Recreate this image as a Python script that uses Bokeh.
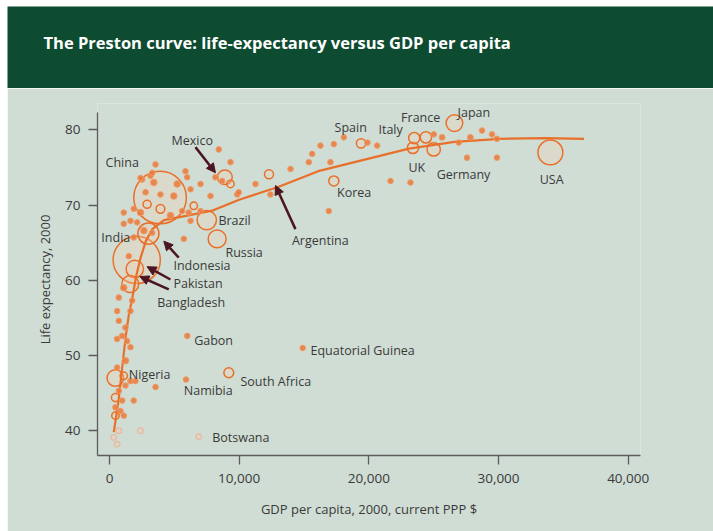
import numpy as np
from bokeh.plotting import figure
from bokeh.models import (Range1d, FixedTicker, NumeralTickFormatter, Label, Arrow,
                          NormalHead, ColumnDataSource, Spacer)
from bokeh.layouts import column, row
from bokeh.core.properties import value
from bokeh.embed import file_html
from bokeh.resources import INLINE

TITLE = "The Preston curve: life-expectancy versus GDP per capita"
X_LABEL = "GDP per capita, 2000, current PPP $"
Y_LABEL = "Life expectancy, 2000"
x_ticks = [0, 10000, 20000, 30000, 40000]
y_ticks = [40, 50, 60, 70, 80]

# named countries: GDP per head (PPP $), life expectancy (years), population (m)
country = ["China", "India", "USA", "Indonesia", "Brazil", "Russia", "Pakistan",
           "Bangladesh", "Japan", "Nigeria", "Mexico", "Germany", "UK", "France",
           "Italy", "Korea", "South Africa", "Spain", "Argentina", "Namibia",
           "Gabon", "Equatorial Guinea"]
country_gdp = [3900, 2100, 34000, 3000, 7500, 8300, 1950, 1600, 26600, 450, 8900,
               25000, 23400, 24400, 23500, 17300, 9200, 19400, 12300, 5900, 6000, 14900]
country_life = [71.0, 62.7, 77.0, 66.2, 68.0, 65.5, 61.5, 59.5, 80.9, 47.0, 73.7,
                77.4, 77.6, 79.0, 78.9, 73.2, 47.7, 78.2, 74.1, 46.8, 52.6, 51.0]
country_pop = [1262, 1016, 282, 206, 172, 146, 138, 131, 127, 126, 98, 82, 59, 59,
               57, 47, 44, 40, 37, 1.9, 1.2, 0.5]

# other countries
other_gdp = [1100, 720, 1750, 590, 1620, 720, 1230, 980, 590, 1360, 1620, 1230, 590,
             1100, 1620, 1230, 2000, 720, 3550, 460, 980, 1870, 460, 850, 460, 1100,
             3550, 2520, 3160, 3420, 5860, 5990, 5220, 7020, 6250, 2780, 3930, 4960,
             7790, 9850, 1100, 1870, 2390, 2900, 3930, 4700, 5600, 6110, 6500, 7020,
             6250, 1620, 2130, 1100, 2650, 3290, 5730, 1870, 1490, 8690, 9330, 8170,
             8430, 9330, 9970, 2390, 3300,
             11260, 12410, 13960, 15370, 15630, 16270, 17040, 17300, 18070, 19900,
             20640, 16910, 21670, 23210, 25010, 25650, 27830, 26930, 28730, 29500,
             29880, 27570, 29880]
other_life = [59.0, 57.7, 57.3, 55.9, 55.9, 54.6, 53.7, 52.6, 52.2, 51.9, 51.1, 49.3,
              48.4, 47.3, 46.6, 46.0, 46.6, 45.3, 45.8, 44.4, 44.0, 44.0, 43.1, 42.6,
              42.0, 42.0,
              75.4, 73.4, 73.9, 73.0, 74.5, 73.7, 72.8, 72.8, 72.1, 71.7, 71.4, 71.2,
              71.2, 71.4, 69.0, 69.5, 69.0, 70.1, 69.5, 68.6, 69.2, 69.0, 69.9, 69.2,
              67.9, 67.9, 67.7, 67.5, 66.6, 66.3, 65.5, 65.7, 63.2, 73.2, 72.8, 73.7,
              77.4, 75.7, 71.7, 73.6, 74.3,
              72.8, 71.4, 74.8, 75.7, 76.8, 77.9, 75.7, 78.1, 79.0, 78.3, 77.9, 69.2,
              73.2, 73.0, 79.4, 79.0, 79.0, 78.3, 79.9, 79.4, 78.8, 76.3, 76.3]
other_pop = [20, 15, 12, 12, 10, 12, 8, 15, 10, 12, 8, 20, 10, 25, 15, 10, 12, 10, 3,
             30, 10, 3, 15, 10, 25, 10,
             3, 8, 15, 20, 3, 5, 20, 5, 5, 15, 5, 20, 4, 5, 8, 8, 20, 30, 35, 20, 10,
             10, 25, 8, 8, 10, 10, 8, 20, 10, 8, 8, 10, 10, 25, 8, 3, 3, 3, 5, 10,
             10, 5, 4, 4, 2, 4, 5, 3, 3, 10, 5, 2, 3, 3, 10, 16, 16, 8, 4, 3, 3, 4, 4]

# countries hit hardest by AIDS, shown paler
pale_country = ["Botswana", "", "", "", ""]
pale_gdp = [6900, 2390, 720, 330, 590]
pale_life = [39.2, 40.0, 40.0, 39.1, 38.2]
pale_pop = [1.7, 15, 5, 5, 5]

# fitted Preston curve
curve_gdp = [330, 700, 980, 1250, 1500, 1750, 2050, 2400, 2800, 3300, 4200, 6000, 8000,
             10000, 13000, 16100, 19600, 23100, 26600, 30100, 33600, 36600]
curve_life = [39.8, 44.0, 48.4, 52.5, 55.5, 57.5, 60.5, 63.0, 65.2, 66.8, 68.0, 68.6,
              69.3, 70.7, 72.4, 74.5, 76.0, 77.5, 78.4, 78.8, 78.9, 78.8]

# callout labels
label_text = ["Mexico", "China", "Spain", "Italy", "France", "Japan", "UK", "Germany", "USA",
              "India",
              "Brazil", "Russia", "Indonesia", "Pakistan", "Bangladesh", "Argentina", "Korea",
              "Gabon", "Equatorial Guinea", "South Africa", "Namibia", "Nigeria", "Botswana"]
label_x = [6380, 980, 18600, 21680, 24000, 28100, 23700, 27300, 34100,
           1600,
           8400, 8940, 4930, 4930, 3680, 14070, 17550,
           6530, 15500, 10100, 5730, 1490, 7920]
label_y = [78.6, 75.7, 80.35, 80.1, 81.6, 82.35, 75.0, 74.1, 73.45,
           65.7,
           68.0, 63.7, 62.0, 59.6, 57.1, 65.3, 71.65,
           51.95, 50.7, 46.6, 45.3, 47.5, 39.1]
label_align = ["center"] * 9 + ["right"] + ["left"] * 13

arrow_x0 = [6630, 14340, 5340, 4700, 4570]
arrow_y0 = [77.7, 66.8, 63.0, 60.1, 58.8]
arrow_x1 = [8170, 12800, 4190, 2900, 2340]
arrow_y1 = [74.3, 72.6, 65.2, 61.8, 60.5]

GREEN = "#0e4c31"
BG = "#d0ddd4"
ORANGE = "#e8702a"
TXT = "#3a3a3a"
FONT = "Open Sans"
W = 706

def radius(pop):
    return np.maximum(2.8, 0.74 * np.sqrt(np.asarray(pop, dtype=float)))

# ---- header band
p0 = figure(width=W, height=82, x_range=Range1d(0, 1), y_range=Range1d(0, 1),
            toolbar_location=None, output_backend="svg", min_border=0,
            x_axis_type=None, y_axis_type=None, background_fill_color=GREEN,
            border_fill_color=GREEN, outline_line_color=None, frame_align=False)
p0.grid.visible = False
p0.add_layout(Label(x=36, y=46, x_units="screen", y_units="screen", text=TITLE,
                    text_color="white", text_font=FONT, text_font_style="bold",
                    text_font_size="16.5px", text_baseline="middle"))

# ---- main chart
p = figure(width=W, height=443, x_range=Range1d(-925, 40950), y_range=Range1d(36.7, 83.5),
           toolbar_location=None, output_backend="svg", frame_align=False,
           min_border_left=90, min_border_right=73, min_border_top=15, min_border_bottom=76,
           background_fill_color=BG, border_fill_color=BG, outline_line_color=None)
p.grid.visible = False

gx = np.array(country_gdp + other_gdp, dtype=float)
gy = np.array(country_life + other_life, dtype=float)
gr = radius(country_pop + other_pop)
order = np.argsort(-gr)
gx, gy, gr = gx[order], gy[order], gr[order]
ring = gr >= 3.5
ring_src = ColumnDataSource(dict(x=gx[ring], y=gy[ring], s=2 * gr[ring]))
dot_src = ColumnDataSource(dict(x=gx[~ring], y=gy[~ring], s=2 * gr[~ring]))
pale_src = ColumnDataSource(dict(x=pale_gdp, y=pale_life, s=2 * radius(pale_pop)))

p.scatter("x", "y", size="s", source=pale_src, fill_color="#ead1c0", fill_alpha=0.6,
          line_color="#e6b9a0", line_width=1.2)
p.scatter("x", "y", size="s", source=ring_src, fill_color="#f6cfb0", fill_alpha=0.3,
          line_color=ORANGE, line_width=1.5)
p.line(curve_gdp, curve_life, line_color=ORANGE, line_width=2.2)
p.scatter("x", "y", size="s", source=dot_src, fill_color="#e9783a", fill_alpha=0.85,
          line_color="#f09a64", line_width=1)

arrow_src = ColumnDataSource(dict(x0=arrow_x0, y0=arrow_y0, x1=arrow_x1, y1=arrow_y1))
p.add_layout(Arrow(end=NormalHead(size=9, fill_color="#4b1620", line_color="#4b1620"),
                   x_start="x0", y_start="y0", x_end="x1", y_end="y1", source=arrow_src,
                   line_color="#4b1620", line_width=2.5))

for al in ["left", "center", "right"]:
    idx = [i for i, a in enumerate(label_align) if a == al]
    src = ColumnDataSource(dict(x=[label_x[i] for i in idx], y=[label_y[i] for i in idx],
                                t=[label_text[i] for i in idx]))
    p.text("x", "y", text="t", source=src, text_align=al, text_baseline="middle",
           text_font=value(FONT), text_font_size="12.5px", text_color=TXT)

p.xaxis.ticker = FixedTicker(ticks=x_ticks)
p.xaxis.formatter = NumeralTickFormatter(format="0,0")
p.yaxis.ticker = FixedTicker(ticks=y_ticks)
p.yaxis.bounds = (36.7, 82.3)
p.xaxis.axis_label = X_LABEL
p.yaxis.axis_label = Y_LABEL
for ax in [p.xaxis, p.yaxis]:
    ax.minor_tick_line_color = None
    ax.major_tick_in = 0
    ax.major_tick_out = 9
    ax.axis_line_color = "#5c5c5c"
    ax.axis_line_width = 1.3
    ax.major_tick_line_color = "#5c5c5c"
    ax.major_tick_line_width = 1.3
    ax.major_label_text_font = FONT
    ax.major_label_text_font_size = "13.5px"
    ax.major_label_text_color = TXT
    ax.axis_label_text_font = FONT
    ax.axis_label_text_font_size = "13px"
    ax.axis_label_text_font_style = "normal"
    ax.axis_label_text_color = TXT
p.xaxis.major_label_standoff = 9
p.yaxis.major_label_standoff = 8
p.xaxis.axis_label_standoff = 14
p.yaxis.axis_label_standoff = 8

layout = row(Spacer(width=7), column(Spacer(height=6), p0, p, spacing=0), spacing=0)
open("out.html", "w").write(file_html(layout, INLINE))
